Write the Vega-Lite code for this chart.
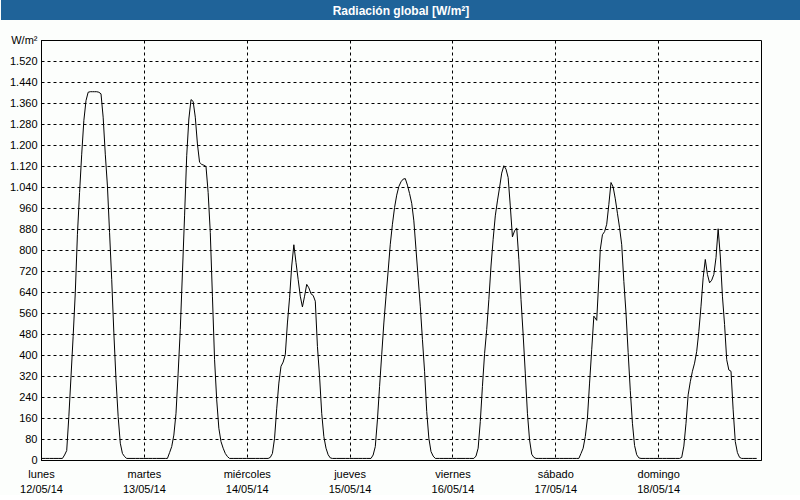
{
  "$schema": "https://vega.github.io/schema/vega-lite/v6.json",
  "background": "#fcfefc",
  "padding": 0,
  "spacing": 13,
  "config": {"font": "Liberation Sans"},
  "datasets": {
    "radiacion": [
      {"t":"2014-05-12T00:00Z","v":6},{"t":"2014-05-12T01:00Z","v":6},{"t":"2014-05-12T02:00Z","v":6},{"t":"2014-05-12T03:00Z","v":6},{"t":"2014-05-12T04:00Z","v":6},{"t":"2014-05-12T05:00Z","v":6},{"t":"2014-05-12T05:30Z","v":19},{"t":"2014-05-12T06:00Z","v":36},{"t":"2014-05-12T06:30Z","v":166},{"t":"2014-05-12T07:00Z","v":318},{"t":"2014-05-12T07:30Z","v":471},{"t":"2014-05-12T08:00Z","v":637},{"t":"2014-05-12T08:30Z","v":860},{"t":"2014-05-12T09:00Z","v":1019},{"t":"2014-05-12T09:30Z","v":1165},{"t":"2014-05-12T10:00Z","v":1293},{"t":"2014-05-12T10:30Z","v":1369},{"t":"2014-05-12T11:00Z","v":1401},{"t":"2014-05-12T11:30Z","v":1403},{"t":"2014-05-12T12:00Z","v":1403},{"t":"2014-05-12T12:30Z","v":1403},{"t":"2014-05-12T13:00Z","v":1403},{"t":"2014-05-12T13:30Z","v":1401},{"t":"2014-05-12T14:00Z","v":1395},{"t":"2014-05-12T14:30Z","v":1306},{"t":"2014-05-12T15:00Z","v":1165},{"t":"2014-05-12T15:30Z","v":1044},{"t":"2014-05-12T16:00Z","v":866},{"t":"2014-05-12T16:30Z","v":688},{"t":"2014-05-12T17:00Z","v":484},{"t":"2014-05-12T17:30Z","v":306},{"t":"2014-05-12T18:00Z","v":166},{"t":"2014-05-12T18:30Z","v":64},{"t":"2014-05-12T19:00Z","v":25},{"t":"2014-05-12T19:30Z","v":13},{"t":"2014-05-12T20:00Z","v":6},{"t":"2014-05-12T21:00Z","v":6},{"t":"2014-05-12T22:00Z","v":6},{"t":"2014-05-12T23:00Z","v":6},
      {"t":"2014-05-13T00:00Z","v":6},{"t":"2014-05-13T01:00Z","v":6},{"t":"2014-05-13T02:00Z","v":6},{"t":"2014-05-13T03:00Z","v":6},{"t":"2014-05-13T04:00Z","v":6},{"t":"2014-05-13T05:00Z","v":6},{"t":"2014-05-13T05:30Z","v":6},{"t":"2014-05-13T06:00Z","v":28},{"t":"2014-05-13T06:30Z","v":51},{"t":"2014-05-13T07:00Z","v":95},{"t":"2014-05-13T07:30Z","v":178},{"t":"2014-05-13T08:00Z","v":331},{"t":"2014-05-13T08:30Z","v":497},{"t":"2014-05-13T09:00Z","v":713},{"t":"2014-05-13T09:30Z","v":930},{"t":"2014-05-13T10:00Z","v":1159},{"t":"2014-05-13T10:30Z","v":1299},{"t":"2014-05-13T11:00Z","v":1373},{"t":"2014-05-13T11:30Z","v":1366},{"t":"2014-05-13T12:00Z","v":1306},{"t":"2014-05-13T12:30Z","v":1204},{"t":"2014-05-13T13:00Z","v":1134},{"t":"2014-05-13T13:30Z","v":1126},{"t":"2014-05-13T14:00Z","v":1123},{"t":"2014-05-13T14:30Z","v":1118},{"t":"2014-05-13T15:00Z","v":1019},{"t":"2014-05-13T15:30Z","v":866},{"t":"2014-05-13T16:00Z","v":624},{"t":"2014-05-13T16:30Z","v":382},{"t":"2014-05-13T17:00Z","v":229},{"t":"2014-05-13T17:30Z","v":121},{"t":"2014-05-13T18:00Z","v":70},{"t":"2014-05-13T18:30Z","v":45},{"t":"2014-05-13T19:00Z","v":25},{"t":"2014-05-13T19:30Z","v":13},{"t":"2014-05-13T20:00Z","v":6},{"t":"2014-05-13T21:00Z","v":6},{"t":"2014-05-13T22:00Z","v":6},{"t":"2014-05-13T23:00Z","v":6},
      {"t":"2014-05-14T00:00Z","v":6},{"t":"2014-05-14T01:00Z","v":6},{"t":"2014-05-14T02:00Z","v":6},{"t":"2014-05-14T03:00Z","v":6},{"t":"2014-05-14T04:00Z","v":6},{"t":"2014-05-14T05:00Z","v":6},{"t":"2014-05-14T05:30Z","v":10},{"t":"2014-05-14T06:00Z","v":25},{"t":"2014-05-14T06:30Z","v":83},{"t":"2014-05-14T07:00Z","v":195},{"t":"2014-05-14T07:30Z","v":293},{"t":"2014-05-14T08:00Z","v":357},{"t":"2014-05-14T08:30Z","v":373},{"t":"2014-05-14T09:00Z","v":401},{"t":"2014-05-14T09:30Z","v":522},{"t":"2014-05-14T10:00Z","v":618},{"t":"2014-05-14T10:30Z","v":739},{"t":"2014-05-14T11:00Z","v":820},{"t":"2014-05-14T11:30Z","v":752},{"t":"2014-05-14T12:00Z","v":688},{"t":"2014-05-14T12:30Z","v":624},{"t":"2014-05-14T13:00Z","v":583},{"t":"2014-05-14T13:30Z","v":624},{"t":"2014-05-14T14:00Z","v":669},{"t":"2014-05-14T14:30Z","v":656},{"t":"2014-05-14T15:00Z","v":633},{"t":"2014-05-14T15:30Z","v":627},{"t":"2014-05-14T16:00Z","v":605},{"t":"2014-05-14T16:30Z","v":433},{"t":"2014-05-14T17:00Z","v":318},{"t":"2014-05-14T17:30Z","v":178},{"t":"2014-05-14T18:00Z","v":89},{"t":"2014-05-14T18:30Z","v":45},{"t":"2014-05-14T19:00Z","v":20},{"t":"2014-05-14T19:30Z","v":8},{"t":"2014-05-14T20:00Z","v":6},{"t":"2014-05-14T21:00Z","v":6},{"t":"2014-05-14T22:00Z","v":6},{"t":"2014-05-14T23:00Z","v":6},
      {"t":"2014-05-15T00:00Z","v":6},{"t":"2014-05-15T01:00Z","v":6},{"t":"2014-05-15T02:00Z","v":6},{"t":"2014-05-15T03:00Z","v":6},{"t":"2014-05-15T04:00Z","v":6},{"t":"2014-05-15T05:00Z","v":6},{"t":"2014-05-15T05:30Z","v":19},{"t":"2014-05-15T06:00Z","v":51},{"t":"2014-05-15T06:30Z","v":153},{"t":"2014-05-15T07:00Z","v":280},{"t":"2014-05-15T07:30Z","v":401},{"t":"2014-05-15T08:00Z","v":522},{"t":"2014-05-15T08:30Z","v":624},{"t":"2014-05-15T09:00Z","v":720},{"t":"2014-05-15T09:30Z","v":822},{"t":"2014-05-15T10:00Z","v":898},{"t":"2014-05-15T10:30Z","v":962},{"t":"2014-05-15T11:00Z","v":1009},{"t":"2014-05-15T11:30Z","v":1042},{"t":"2014-05-15T12:00Z","v":1060},{"t":"2014-05-15T12:30Z","v":1070},{"t":"2014-05-15T13:00Z","v":1072},{"t":"2014-05-15T13:30Z","v":1047},{"t":"2014-05-15T14:00Z","v":1015},{"t":"2014-05-15T14:30Z","v":978},{"t":"2014-05-15T15:00Z","v":911},{"t":"2014-05-15T15:30Z","v":802},{"t":"2014-05-15T16:00Z","v":694},{"t":"2014-05-15T16:30Z","v":586},{"t":"2014-05-15T17:00Z","v":459},{"t":"2014-05-15T17:30Z","v":338},{"t":"2014-05-15T18:00Z","v":185},{"t":"2014-05-15T18:30Z","v":83},{"t":"2014-05-15T19:00Z","v":32},{"t":"2014-05-15T19:30Z","v":15},{"t":"2014-05-15T20:00Z","v":6},{"t":"2014-05-15T21:00Z","v":6},{"t":"2014-05-15T22:00Z","v":6},{"t":"2014-05-15T23:00Z","v":6},
      {"t":"2014-05-16T00:00Z","v":6},{"t":"2014-05-16T01:00Z","v":6},{"t":"2014-05-16T02:00Z","v":6},{"t":"2014-05-16T03:00Z","v":6},{"t":"2014-05-16T04:00Z","v":6},{"t":"2014-05-16T05:00Z","v":6},{"t":"2014-05-16T05:30Z","v":15},{"t":"2014-05-16T06:00Z","v":45},{"t":"2014-05-16T06:30Z","v":146},{"t":"2014-05-16T07:00Z","v":280},{"t":"2014-05-16T07:30Z","v":405},{"t":"2014-05-16T08:00Z","v":497},{"t":"2014-05-16T08:30Z","v":611},{"t":"2014-05-16T09:00Z","v":739},{"t":"2014-05-16T09:30Z","v":841},{"t":"2014-05-16T10:00Z","v":930},{"t":"2014-05-16T10:30Z","v":987},{"t":"2014-05-16T11:00Z","v":1038},{"t":"2014-05-16T11:30Z","v":1093},{"t":"2014-05-16T12:00Z","v":1121},{"t":"2014-05-16T12:30Z","v":1108},{"t":"2014-05-16T13:00Z","v":1076},{"t":"2014-05-16T13:30Z","v":968},{"t":"2014-05-16T14:00Z","v":850},{"t":"2014-05-16T14:30Z","v":873},{"t":"2014-05-16T15:00Z","v":884},{"t":"2014-05-16T15:30Z","v":764},{"t":"2014-05-16T16:00Z","v":611},{"t":"2014-05-16T16:30Z","v":478},{"t":"2014-05-16T17:00Z","v":331},{"t":"2014-05-16T17:30Z","v":178},{"t":"2014-05-16T18:00Z","v":76},{"t":"2014-05-16T18:30Z","v":22},{"t":"2014-05-16T19:00Z","v":10},{"t":"2014-05-16T19:30Z","v":6},{"t":"2014-05-16T20:00Z","v":6},{"t":"2014-05-16T21:00Z","v":6},{"t":"2014-05-16T22:00Z","v":6},{"t":"2014-05-16T23:00Z","v":6},
      {"t":"2014-05-17T00:00Z","v":6},{"t":"2014-05-17T01:00Z","v":6},{"t":"2014-05-17T02:00Z","v":6},{"t":"2014-05-17T03:00Z","v":6},{"t":"2014-05-17T04:00Z","v":6},{"t":"2014-05-17T05:00Z","v":6},{"t":"2014-05-17T05:30Z","v":6},{"t":"2014-05-17T06:00Z","v":25},{"t":"2014-05-17T06:30Z","v":45},{"t":"2014-05-17T07:00Z","v":89},{"t":"2014-05-17T07:30Z","v":159},{"t":"2014-05-17T08:00Z","v":293},{"t":"2014-05-17T08:30Z","v":420},{"t":"2014-05-17T09:00Z","v":548},{"t":"2014-05-17T09:40Z","v":532},{"t":"2014-05-17T10:00Z","v":637},{"t":"2014-05-17T10:30Z","v":802},{"t":"2014-05-17T11:00Z","v":858},{"t":"2014-05-17T11:30Z","v":870},{"t":"2014-05-17T12:00Z","v":898},{"t":"2014-05-17T12:30Z","v":974},{"t":"2014-05-17T13:00Z","v":1057},{"t":"2014-05-17T13:30Z","v":1040},{"t":"2014-05-17T14:00Z","v":995},{"t":"2014-05-17T14:30Z","v":940},{"t":"2014-05-17T15:00Z","v":885},{"t":"2014-05-17T15:30Z","v":820},{"t":"2014-05-17T16:00Z","v":680},{"t":"2014-05-17T16:30Z","v":560},{"t":"2014-05-17T17:00Z","v":410},{"t":"2014-05-17T17:30Z","v":265},{"t":"2014-05-17T18:00Z","v":140},{"t":"2014-05-17T18:30Z","v":55},{"t":"2014-05-17T19:00Z","v":20},{"t":"2014-05-17T19:30Z","v":8},{"t":"2014-05-17T20:00Z","v":6},{"t":"2014-05-17T21:00Z","v":6},{"t":"2014-05-17T22:00Z","v":6},{"t":"2014-05-17T23:00Z","v":6},
      {"t":"2014-05-18T00:00Z","v":6},{"t":"2014-05-18T01:00Z","v":6},{"t":"2014-05-18T02:00Z","v":6},{"t":"2014-05-18T03:00Z","v":6},{"t":"2014-05-18T04:00Z","v":6},{"t":"2014-05-18T05:00Z","v":6},{"t":"2014-05-18T05:30Z","v":10},{"t":"2014-05-18T06:00Z","v":53},{"t":"2014-05-18T06:30Z","v":140},{"t":"2014-05-18T07:00Z","v":248},{"t":"2014-05-18T07:30Z","v":298},{"t":"2014-05-18T08:00Z","v":338},{"t":"2014-05-18T08:30Z","v":369},{"t":"2014-05-18T09:00Z","v":414},{"t":"2014-05-18T09:30Z","v":490},{"t":"2014-05-18T10:00Z","v":586},{"t":"2014-05-18T10:30Z","v":694},{"t":"2014-05-18T11:00Z","v":764},{"t":"2014-05-18T11:30Z","v":707},{"t":"2014-05-18T12:00Z","v":675},{"t":"2014-05-18T12:30Z","v":685},{"t":"2014-05-18T13:00Z","v":707},{"t":"2014-05-18T13:30Z","v":771},{"t":"2014-05-18T14:00Z","v":881},{"t":"2014-05-18T14:30Z","v":777},{"t":"2014-05-18T15:00Z","v":624},{"t":"2014-05-18T15:30Z","v":516},{"t":"2014-05-18T16:00Z","v":382},{"t":"2014-05-18T16:30Z","v":343},{"t":"2014-05-18T17:00Z","v":338},{"t":"2014-05-18T17:30Z","v":191},{"t":"2014-05-18T18:00Z","v":70},{"t":"2014-05-18T18:30Z","v":28},{"t":"2014-05-18T19:00Z","v":10},{"t":"2014-05-18T19:30Z","v":6},{"t":"2014-05-18T20:00Z","v":6},{"t":"2014-05-18T21:00Z","v":6},{"t":"2014-05-18T22:00Z","v":6},{"t":"2014-05-18T23:00Z","v":6}
    ]
  },
  "vconcat": [
    {
      "width": 760,
      "height": 20,
      "view": {"stroke": null, "fill": null},
      "data": {"values": [{"titulo": "Radiación global [W/m²]"}]},
      "layer": [
        {
          "mark": {"type": "rect", "color": "#1f6399"},
          "encoding": {
            "x": {"datum": 0, "type": "quantitative", "scale": {"domain": [0, 1], "range": [-40, 760], "nice": false, "zero": false}, "axis": null},
            "x2": {"datum": 1}
          }
        },
        {
          "mark": {"type": "text", "color": "#ffffff", "fontWeight": "bold", "fontSize": 12, "font": "Liberation Sans", "align": "center", "baseline": "middle", "dy": 1},
          "encoding": {
            "x": {"datum": 0.5, "type": "quantitative"},
            "text": {"field": "titulo", "type": "nominal"}
          }
        }
      ]
    },
    {
      "width": 720,
      "height": 420,
      "view": {"stroke": "#000000", "strokeWidth": 1, "fill": null},
      "data": {"name": "radiacion"},
      "mark": {"type": "line", "color": "#000000", "strokeWidth": 1, "clip": true},
      "encoding": {
        "x": {
          "field": "t",
          "type": "temporal",
          "scale": {"type": "utc", "domain": [{"year": 2014, "month": 5, "date": 12, "utc": true}, {"year": 2014, "month": 5, "date": 19, "utc": true}], "nice": false},
          "axis": {
            "title": null,
            "values": [
              {"year": 2014, "month": 5, "date": 12, "utc": true},
              {"year": 2014, "month": 5, "date": 13, "utc": true},
              {"year": 2014, "month": 5, "date": 14, "utc": true},
              {"year": 2014, "month": 5, "date": 15, "utc": true},
              {"year": 2014, "month": 5, "date": 16, "utc": true},
              {"year": 2014, "month": 5, "date": 17, "utc": true},
              {"year": 2014, "month": 5, "date": 18, "utc": true}
            ],
            "labelExpr": "[['domingo','lunes','martes','miércoles','jueves','viernes','sábado'][utcday(datum.value)], utcFormat(datum.value, '%d/%m/%y')]",
            "labelFlush": false,
            "labelOverlap": false,
            "labelAlign": "center",
            "labelBaseline": "top",
            "labelPadding": 8,
            "labelLineHeight": 15,
            "labelFont": "Liberation Sans",
            "labelFontSize": 11,
            "labelColor": "#000000",
            "ticks": false,
            "domainColor": "#000000",
            "grid": true,
            "gridColor": "#000000",
            "gridOpacity": 1,
            "gridDash": [3, 3],
            "gridWidth": 1
          }
        },
        "y": {
          "field": "v",
          "type": "quantitative",
          "scale": {"domain": [0, 1600], "nice": false, "zero": true},
          "axis": {
            "title": null,
            "values": [0, 80, 160, 240, 320, 400, 480, 560, 640, 720, 800, 880, 960, 1040, 1120, 1200, 1280, 1360, 1440, 1520, 1600],
            "labelExpr": "datum.value >= 1600 ? 'W/m²' : replace(format(datum.value, ','), ',', '.')",
            "labelOverlap": false,
            "labelPadding": 4,
            "labelFont": "Liberation Sans",
            "labelFontSize": 11,
            "labelColor": "#000000",
            "minExtent": 40,
            "ticks": false,
            "domainColor": "#000000",
            "grid": true,
            "gridColor": "#000000",
            "gridOpacity": 1,
            "gridDash": [3, 3],
            "gridWidth": 1
          }
        }
      }
    }
  ]
}
